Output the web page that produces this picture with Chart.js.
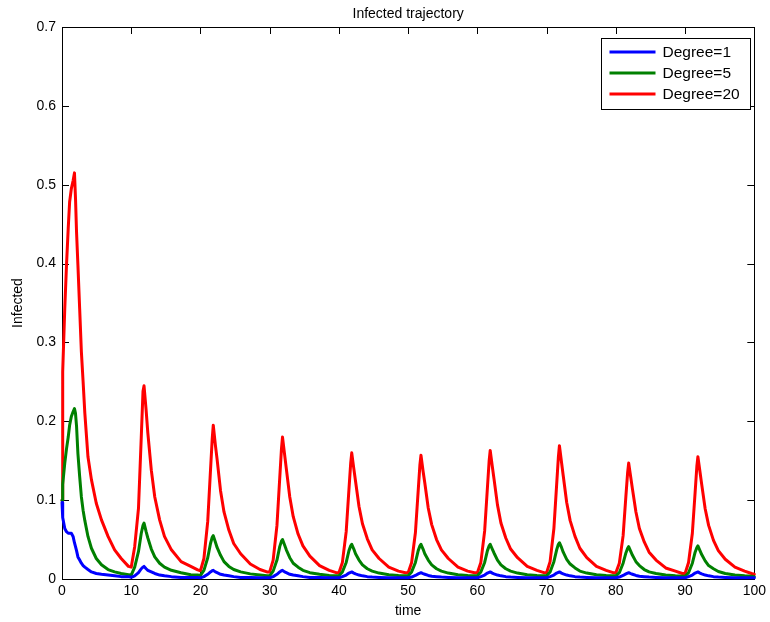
<!DOCTYPE html>
<html>
<head>
<meta charset="utf-8">
<title>Infected trajectory</title>
<script src="https://cdn.jsdelivr.net/npm/chart.js@4/dist/chart.umd.min.js"></script>
<style>
  html, body { margin: 0; padding: 0; background: #fff; }
  #chartInfected { display: block; }
</style>
</head>
<body>
<canvas id="chartInfected" width="770" height="622"></canvas>
<script>
// sample times (one burst every 10 time units)
const time = [
    0, 0.1, 0.4, 0.65, 0.9, 1.1, 1.35, 1.6, 1.8, 1.95, 2.1, 2.3, 2.55, 2.8, 3.05, 3.3, 3.75, 4.25, 4.95, 5.7, 6.65, 7.6, 8.55, 9.6,
    10, 10.5, 11.05, 11.45, 11.7, 11.85, 12.15, 12.4, 12.9, 13.4, 14.1, 14.8, 15.8, 17.2, 18.6, 19.6,
    20, 20.5, 21.05, 21.45, 21.7, 21.85, 22.15, 22.4, 22.9, 23.4, 24.1, 24.8, 25.8, 27.2, 28.6, 29.6,
    30, 30.5, 31.05, 31.45, 31.7, 31.85, 32.15, 32.4, 32.9, 33.4, 34.1, 34.8, 35.8, 37.2, 38.6, 39.6,
    40, 40.5, 41.05, 41.45, 41.7, 41.85, 42.15, 42.4, 42.9, 43.4, 44.1, 44.8, 45.8, 47.2, 48.6, 49.6,
    50, 50.5, 51.05, 51.45, 51.7, 51.85, 52.15, 52.4, 52.9, 53.4, 54.1, 54.8, 55.8, 57.2, 58.6, 59.6,
    60, 60.5, 61.05, 61.45, 61.7, 61.85, 62.15, 62.4, 62.9, 63.4, 64.1, 64.8, 65.8, 67.2, 68.6, 69.6,
    70, 70.5, 71.05, 71.45, 71.7, 71.85, 72.15, 72.4, 72.9, 73.4, 74.1, 74.8, 75.8, 77.2, 78.6, 79.6,
    80, 80.5, 81.05, 81.45, 81.7, 81.85, 82.15, 82.4, 82.9, 83.4, 84.1, 84.8, 85.8, 87.2, 88.6, 89.6,
    90, 90.5, 91.05, 91.45, 91.7, 91.85, 92.15, 92.4, 92.9, 93.4, 94.1, 94.8, 95.8, 97.2, 98.6, 99.6,
    100
];

const infectedDeg1 = [
    0.097, 0.078, 0.064, 0.06, 0.058, 0.058, 0.058, 0.054, 0.046, 0.041, 0.036, 0.028, 0.024, 0.02, 0.017, 0.015, 0.012, 0.009, 0.007, 0.006, 0.005, 0.004, 0.003, 0.003,
    0.002, 0.004, 0.008, 0.013, 0.015, 0.016, 0.013, 0.011, 0.009, 0.007, 0.005, 0.004, 0.003, 0.002, 0.002, 0.002,
    0.0015, 0.003, 0.006, 0.009, 0.0105, 0.011, 0.009, 0.008, 0.006, 0.005, 0.004, 0.003, 0.002, 0.002, 0.0015, 0.0015,
    0.0015, 0.003, 0.006, 0.009, 0.0105, 0.011, 0.009, 0.008, 0.006, 0.005, 0.004, 0.003, 0.002, 0.002, 0.0015, 0.0015,
    0.0015, 0.003, 0.005, 0.0075, 0.0085, 0.009, 0.0075, 0.0065, 0.005, 0.004, 0.003, 0.0025, 0.002, 0.0015, 0.0015, 0.0015,
    0.0015, 0.0025, 0.0045, 0.0065, 0.0075, 0.008, 0.0068, 0.006, 0.0045, 0.0035, 0.003, 0.0025, 0.002, 0.0015, 0.0015, 0.0015,
    0.0015, 0.003, 0.005, 0.0075, 0.0085, 0.009, 0.0075, 0.0065, 0.005, 0.004, 0.003, 0.0025, 0.002, 0.0015, 0.0015, 0.0015,
    0.0015, 0.003, 0.005, 0.0075, 0.0085, 0.009, 0.0075, 0.0065, 0.005, 0.004, 0.003, 0.0025, 0.002, 0.0015, 0.0015, 0.0015,
    0.0015, 0.0025, 0.0045, 0.0065, 0.0075, 0.008, 0.0068, 0.006, 0.0045, 0.0035, 0.003, 0.0025, 0.002, 0.0015, 0.0015, 0.0015,
    0.0015, 0.003, 0.005, 0.0075, 0.0085, 0.009, 0.0075, 0.0065, 0.005, 0.004, 0.003, 0.0025, 0.002, 0.0015, 0.0015, 0.0015,
    0.0015
];

const infectedDeg5 = [
    0.1, 0.12, 0.147, 0.165, 0.18, 0.195, 0.206, 0.212, 0.216, 0.21, 0.194, 0.159, 0.13, 0.104, 0.087, 0.074, 0.054, 0.039, 0.026, 0.018, 0.012, 0.009, 0.007, 0.0055,
    0.005, 0.015, 0.035, 0.058, 0.068, 0.071, 0.06, 0.052, 0.038, 0.028, 0.02, 0.015, 0.011, 0.008, 0.0055, 0.005,
    0.0045, 0.011, 0.027, 0.045, 0.053, 0.055, 0.047, 0.04, 0.03, 0.022, 0.016, 0.012, 0.009, 0.0065, 0.005, 0.004,
    0.004, 0.01, 0.024, 0.041, 0.048, 0.05, 0.043, 0.037, 0.027, 0.02, 0.015, 0.011, 0.008, 0.006, 0.0045, 0.004,
    0.004, 0.009, 0.021, 0.036, 0.042, 0.044, 0.038, 0.032, 0.024, 0.018, 0.013, 0.01, 0.0075, 0.0055, 0.0045, 0.004,
    0.004, 0.009, 0.021, 0.036, 0.042, 0.044, 0.038, 0.032, 0.024, 0.018, 0.013, 0.01, 0.0075, 0.0055, 0.0045, 0.004,
    0.004, 0.009, 0.021, 0.036, 0.042, 0.044, 0.038, 0.033, 0.024, 0.018, 0.013, 0.01, 0.0075, 0.0055, 0.0045, 0.004,
    0.004, 0.009, 0.022, 0.037, 0.044, 0.046, 0.04, 0.034, 0.025, 0.019, 0.014, 0.01, 0.0075, 0.0055, 0.0045, 0.004,
    0.004, 0.008, 0.02, 0.033, 0.039, 0.041, 0.035, 0.03, 0.022, 0.017, 0.012, 0.009, 0.007, 0.005, 0.004, 0.0035,
    0.0035, 0.008, 0.02, 0.034, 0.04, 0.042, 0.036, 0.031, 0.023, 0.017, 0.013, 0.0095, 0.007, 0.005, 0.004, 0.0035,
    0.003
];

const infectedDeg20 = [
    0.1, 0.263, 0.343, 0.398, 0.445, 0.478, 0.495, 0.505, 0.515, 0.483, 0.44, 0.398, 0.343, 0.288, 0.25, 0.21, 0.155, 0.126, 0.096, 0.075, 0.054, 0.037, 0.026, 0.016,
    0.015, 0.041, 0.09, 0.18, 0.238, 0.245, 0.214, 0.185, 0.138, 0.104, 0.075, 0.054, 0.037, 0.022, 0.016, 0.0115,
    0.0105, 0.026, 0.073, 0.138, 0.178, 0.195, 0.17, 0.152, 0.112, 0.085, 0.062, 0.045, 0.032, 0.019, 0.012, 0.009,
    0.009, 0.024, 0.068, 0.128, 0.165, 0.18, 0.158, 0.14, 0.104, 0.079, 0.057, 0.042, 0.029, 0.017, 0.011, 0.008,
    0.008, 0.021, 0.06, 0.114, 0.147, 0.16, 0.14, 0.124, 0.092, 0.07, 0.051, 0.037, 0.026, 0.015, 0.01, 0.008,
    0.008, 0.021, 0.059, 0.112, 0.145, 0.157, 0.137, 0.122, 0.09, 0.069, 0.05, 0.037, 0.026, 0.015, 0.01, 0.008,
    0.008, 0.021, 0.061, 0.116, 0.15, 0.163, 0.143, 0.127, 0.094, 0.071, 0.052, 0.038, 0.027, 0.016, 0.011, 0.008,
    0.008, 0.022, 0.064, 0.12, 0.155, 0.169, 0.148, 0.131, 0.097, 0.074, 0.054, 0.039, 0.027, 0.016, 0.011, 0.008,
    0.008, 0.02, 0.055, 0.105, 0.135, 0.147, 0.129, 0.114, 0.085, 0.064, 0.047, 0.034, 0.024, 0.014, 0.01, 0.007,
    0.007, 0.021, 0.058, 0.11, 0.143, 0.155, 0.136, 0.12, 0.089, 0.068, 0.049, 0.036, 0.025, 0.015, 0.01, 0.007,
    0.006
];

const seriesLabels = ["Degree=1", "Degree=5", "Degree=20"];
const seriesColors = ["#0000ff", "#008000", "#ff0000"];
const xTickLabels = ["0", "10", "20", "30", "40", "50", "60", "70", "80", "90", "100"];
const yTickLabels = ["0", "0.1", "0.2", "0.3", "0.4", "0.5", "0.6", "0.7"];

const FONT = "'Liberation Sans', Arial, Helvetica, sans-serif";

const toPoints = (ys) => ys.map((v, i) => ({ x: time[i], y: v }));

// box around the axes, inward ticks on all four sides, titles and legend
const matlabFrame = {
    id: "matlabFrame",
    beforeDatasetsDraw(chart) {
        const { ctx, chartArea: a, scales } = chart;
        const tickLen = 7;
        ctx.save();
        ctx.strokeStyle = "#000";
        ctx.lineWidth = 1;
        ctx.strokeRect(Math.round(a.left) + 0.5, Math.round(a.top) + 0.5,
            Math.round(a.right - a.left), Math.round(a.bottom - a.top));
        ctx.beginPath();
        scales.x.ticks.forEach((t) => {
            const px = Math.round(scales.x.getPixelForValue(t.value)) + 0.5;
            ctx.moveTo(px, a.bottom); ctx.lineTo(px, a.bottom - tickLen);
            ctx.moveTo(px, a.top); ctx.lineTo(px, a.top + tickLen);
        });
        scales.y.ticks.forEach((t) => {
            const py = Math.round(scales.y.getPixelForValue(t.value)) + 0.5;
            ctx.moveTo(a.left, py); ctx.lineTo(a.left + tickLen, py);
            ctx.moveTo(a.right, py); ctx.lineTo(a.right - tickLen, py);
        });
        ctx.stroke();

        ctx.fillStyle = "#000";
        ctx.font = "14px " + FONT;
        ctx.textAlign = "center";
        ctx.textBaseline = "middle";
        ctx.fillText("Infected trajectory", (a.left + a.right) / 2, 14);
        ctx.fillText("time", (a.left + a.right) / 2, 611);
        ctx.translate(18, (a.top + a.bottom) / 2);
        ctx.rotate(-Math.PI / 2);
        ctx.fillText("Infected", 0, 0);
        ctx.restore();
    },
    afterDraw(chart) {
        const { ctx, chartArea: a } = chart;
        const w = 149, h = 71;
        const left = Math.round(a.right - 4 - w) + 0.5;
        const top = Math.round(a.top + 11) + 0.5;
        ctx.save();
        ctx.fillStyle = "#fff";
        ctx.fillRect(left, top, w, h);
        ctx.strokeStyle = "#000";
        ctx.lineWidth = 1;
        ctx.strokeRect(left, top, w, h);
        ctx.font = "15.5px " + FONT;
        ctx.textAlign = "left";
        ctx.textBaseline = "middle";
        chart.data.datasets.forEach((ds, i) => {
            const cy = top + 13.5 + i * 21;
            ctx.strokeStyle = ds.borderColor;
            ctx.lineWidth = 3;
            ctx.beginPath();
            ctx.moveTo(left + 8, cy);
            ctx.lineTo(left + 54, cy);
            ctx.stroke();
            ctx.fillStyle = "#000";
            ctx.fillText(ds.label, left + 61, cy + 1);
        });
        ctx.restore();
    },
};

const canvas = document.getElementById("chartInfected");

new Chart(canvas, {
    type: "line",
    data: {
        datasets: [infectedDeg1, infectedDeg5, infectedDeg20].map((ys, i) => ({
            label: seriesLabels[i],
            data: toPoints(ys),
            borderColor: seriesColors[i],
            backgroundColor: seriesColors[i],
            borderWidth: 3,
            borderJoinStyle: "round",
            borderCapStyle: "round",
            pointRadius: 0,
            tension: 0,
            fill: false,
            clip: false,
        })),
    },
    options: {
        responsive: false,
        animation: false,
        events: [],
        layout: { padding: { top: 27, right: 15, left: 0, bottom: 0 } },
        plugins: {
            legend: { display: false },
            title: { display: false },
            tooltip: { enabled: false },
        },
        scales: {
            x: {
                type: "linear",
                min: 0,
                max: 100,
                grid: { display: false, drawTicks: false },
                border: { display: false },
                ticks: {
                    stepSize: 10,
                    color: "#000",
                    font: { family: FONT, size: 14 },
                    padding: 4,
                    maxRotation: 0,
                    callback: (v, i) => xTickLabels[i],
                },
                afterFit: (s) => { s.height = 43; },
            },
            y: {
                min: 0,
                max: 0.7,
                grid: { display: false, drawTicks: false },
                border: { display: false },
                ticks: {
                    stepSize: 0.1,
                    color: "#000",
                    font: { family: FONT, size: 14 },
                    padding: 6,
                    callback: (v, i) => yTickLabels[i],
                },
                afterFit: (s) => { s.width = 62; },
            },
        },
    },
    plugins: [matlabFrame],
});
</script>
</body>
</html>
